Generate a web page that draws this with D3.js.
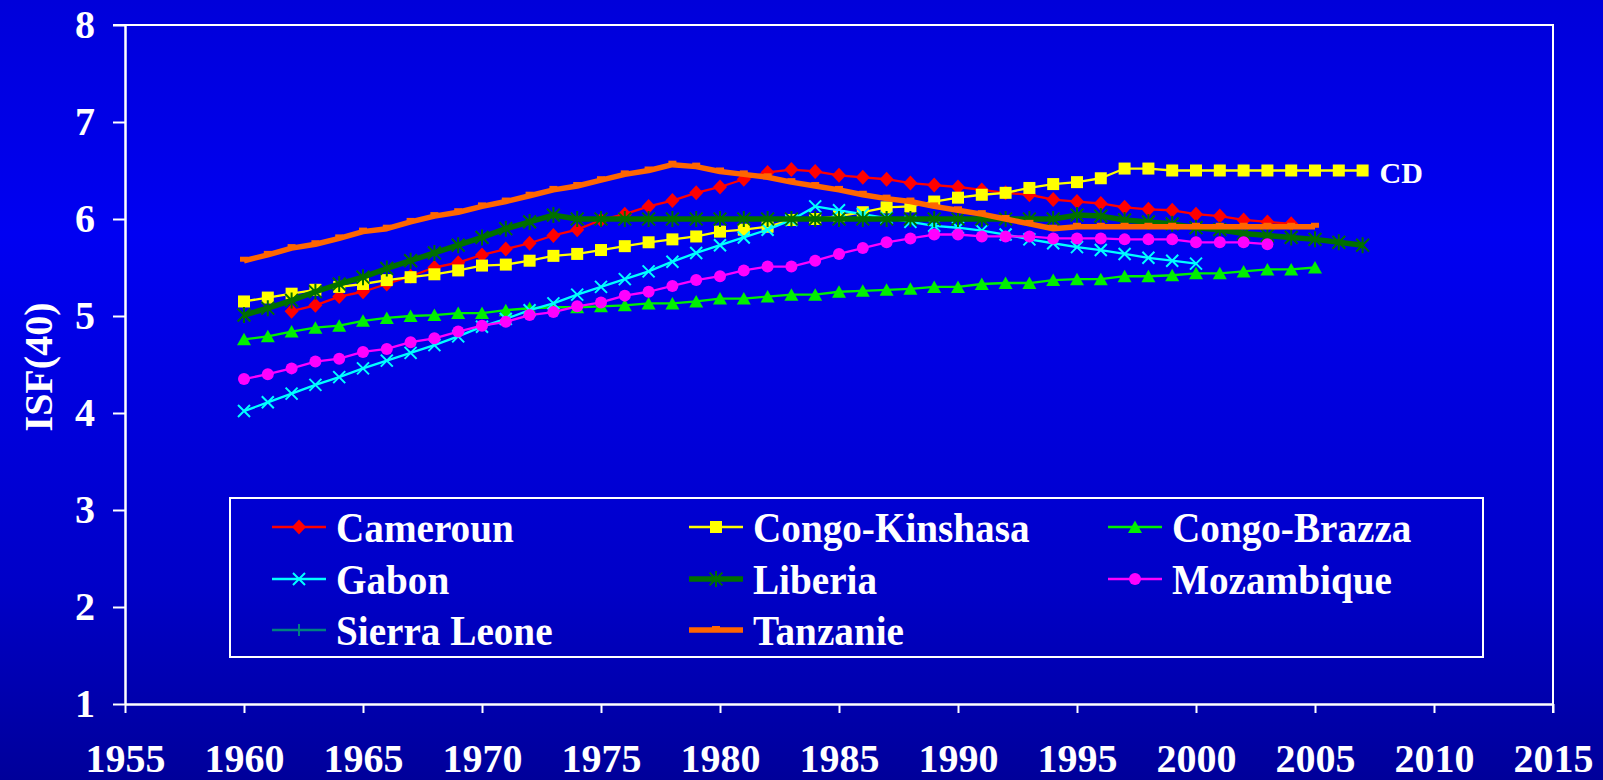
<!DOCTYPE html>
<html>
<head>
<meta charset="utf-8">
<script src="https://cdn.jsdelivr.net/npm/d3@7"></script>
<style>
html,body{margin:0;padding:0;background:#0000C0;}
svg{display:block;}
text{font-family:"Liberation Serif","Times New Roman",serif;font-weight:bold;fill:#fff;}
</style>
</head>
<body>
<svg id="chart" width="1603" height="780"></svg>
<script>
// ---------- data ----------
const xTicks = [1955,1960,1965,1970,1975,1980,1985,1990,1995,2000,2005,2010,2015];
const yTicks = [1,2,3,4,5,6,7,8];
const yLabel = "ISF(40)";

const camerounStart = 1962;
const cameroun = [5.05,5.11,5.20,5.25,5.33,5.41,5.50,5.55,5.63,5.69,5.75,5.83,5.89,5.99,6.05,6.13,6.19,6.27,6.33,6.41,6.48,6.51,6.49,6.45,6.43,6.41,6.37,6.35,6.33,6.30,6.27,6.25,6.20,6.18,6.16,6.12,6.10,6.09,6.05,6.03,5.99,5.97,5.95];

const kinshasaStart = 1960;
const kinshasa = [5.15,5.19,5.23,5.27,5.30,5.33,5.37,5.40,5.43,5.47,
                  5.52,5.53,5.57,5.62,5.64,5.68,5.72,5.76,5.79,5.82,
                  5.87,5.89,5.92,5.99,6.00,6.03,6.07,6.12,6.13,6.18,
                  6.22,6.25,6.27,6.32,6.36,6.38,6.42,6.52,6.52,6.50,
                  6.50,6.50,6.50,6.50,6.50,6.50,6.50,6.50];

const brazzaStart = 1960;
const brazza = [4.76,4.79,4.84,4.88,4.90,4.95,4.98,5.00,5.01,5.03,
                5.03,5.06,5.08,5.09,5.09,5.10,5.11,5.13,5.13,5.15,
                5.18,5.18,5.20,5.22,5.22,5.25,5.26,5.27,5.28,5.30,
                5.30,5.33,5.34,5.34,5.37,5.38,5.38,5.41,5.41,5.42,
                5.44,5.44,5.46,5.48,5.48,5.50];

const gabonStart = 1960;
const gabon = [4.02,4.11,4.20,4.29,4.37,4.46,4.54,4.62,4.70,4.79,
               4.89,4.97,5.06,5.13,5.22,5.30,5.38,5.46,5.56,5.65,
               5.73,5.81,5.89,5.99,6.13,6.09,6.05,6.01,5.97,5.93,
               5.91,5.88,5.84,5.79,5.75,5.71,5.68,5.64,5.60,5.57,5.54];

const liberiaStart = 1960;
const liberia = [5.01,5.08,5.16,5.25,5.33,5.40,5.49,5.57,5.65,5.73,
                 5.81,5.90,5.97,6.04,6.00,6.00,6.00,6.00,6.00,6.00,
                 6.00,6.00,6.00,6.00,6.00,6.00,6.00,6.00,6.00,6.00,
                 6.00,6.00,6.00,6.00,6.00,6.04,6.03,5.99,5.97,5.95,
                 5.91,5.89,5.85,5.83,5.81,5.79,5.76,5.73];

const mozambiqueStart = 1960;
const mozambique = [4.35,4.40,4.46,4.53,4.56,4.63,4.66,4.73,4.77,4.84,
                    4.90,4.94,5.01,5.04,5.10,5.14,5.21,5.25,5.31,5.37,
                    5.41,5.47,5.51,5.51,5.57,5.64,5.70,5.76,5.80,5.84,
                    5.84,5.82,5.82,5.82,5.80,5.80,5.80,5.79,5.79,5.79,
                    5.76,5.76,5.76,5.74];

const sierraLeoneStart = 1960;
const sierraLeone = [];

const tanzanieStart = 1960;
const tanzanie = [5.57,5.63,5.70,5.74,5.80,5.87,5.90,5.97,6.03,6.07,
                  6.13,6.18,6.24,6.30,6.34,6.40,6.46,6.50,6.56,6.54,
                  6.49,6.46,6.43,6.38,6.34,6.30,6.25,6.21,6.18,6.13,
                  6.09,6.05,6.00,5.95,5.90,5.92,5.92,5.92,5.92,5.92,
                  5.92,5.92,5.92,5.92,5.92,5.92];

const seriesNames = ["Cameroun","Congo-Kinshasa","Congo-Brazza","Gabon","Liberia","Mozambique","Sierra Leone","Tanzanie"];
const endLabel = "CD";

// ---------- styles ----------
const styles = {
  "Cameroun":      {color:"#FF0000", width:2.3, marker:"diamond"},
  "Congo-Kinshasa":{color:"#FFFF00", width:2.3, marker:"square"},
  "Congo-Brazza":  {color:"#00F000", width:2.3, marker:"triangle"},
  "Gabon":         {color:"#00FFFF", width:2.3, marker:"x"},
  "Liberia":       {color:"#006F00", width:5.5, marker:"star"},
  "Mozambique":    {color:"#FF00FF", width:2.3, marker:"circle"},
  "Sierra Leone":  {color:"#008080", width:2.3, marker:"plus"},
  "Tanzanie":      {color:"#FF6600", width:5.5, marker:"dash"}
};

function mk(start, vals){ return vals.map((v,i)=>({year:start+i, value:v})); }
const series = [
  {name:"Cameroun", data:mk(camerounStart,cameroun)},
  {name:"Congo-Kinshasa", data:mk(kinshasaStart,kinshasa)},
  {name:"Congo-Brazza", data:mk(brazzaStart,brazza)},
  {name:"Gabon", data:mk(gabonStart,gabon)},
  {name:"Liberia", data:mk(liberiaStart,liberia)},
  {name:"Mozambique", data:mk(mozambiqueStart,mozambique)},
  {name:"Sierra Leone", data:mk(sierraLeoneStart,sierraLeone)},
  {name:"Tanzanie", data:mk(tanzanieStart,tanzanie)}
];

// ---------- layout ----------
const W = 1603, H = 780;
const L = 125, R = 1553, T = 25, B = 704;
const svg = d3.select("#chart");

const defs = svg.append("defs");
const grad = defs.append("linearGradient").attr("id","bg").attr("x1",0).attr("y1",0).attr("x2",0).attr("y2",1);
[[0,"#0000DA"],[0.3,"#0000F2"],[0.75,"#0000C8"],[1,"#00009A"]].forEach(s=>
  grad.append("stop").attr("offset",s[0]).attr("stop-color",s[1]));
svg.append("rect").attr("width",W).attr("height",H).attr("fill","url(#bg)");

const x = d3.scaleLinear().domain([1955,2015]).range([L,R]);
const y = d3.scaleLinear().domain([1,8]).range([B,T]);

// frame (top and right)
svg.append("path")
  .attr("d",`M${L-12},${T}H${R}V${B+9}`)
  .attr("fill","none").attr("stroke","#fff").attr("stroke-width",2);

// axes
const yAxis = svg.append("g").attr("transform",`translate(${L},0)`)
  .call(d3.axisLeft(y).tickValues(yTicks).tickFormat(d3.format("d")).tickSize(12).tickSizeOuter(0).tickPadding(18));
const xAxis = svg.append("g").attr("transform",`translate(0,${B})`)
  .call(d3.axisBottom(x).tickValues(xTicks).tickFormat(d3.format("d")).tickSize(9).tickSizeOuter(0).tickPadding(31));
[yAxis,xAxis].forEach(g=>{
  g.selectAll("path.domain").attr("stroke","#fff").attr("stroke-width",2.5);
  g.selectAll(".tick line").attr("stroke","#fff").attr("stroke-width",2);
  g.selectAll("text").style("font-family",'"Liberation Serif","Times New Roman",serif')
    .style("font-weight","bold").style("font-size","40px").attr("fill","#fff");
});

svg.append("text")
  .attr("transform",`translate(52,367) rotate(-90)`)
  .attr("text-anchor","middle")
  .style("font-size","40px")
  .text(yLabel);

// markers
function drawMarker(g, type, color, cx, cy, scale){
  const s = scale||1;
  if(type==="diamond"){
    g.append("path").attr("d",`M${cx},${cy-7.5*s}L${cx+7*s},${cy}L${cx},${cy+7.5*s}L${cx-7*s},${cy}Z`).attr("fill",color);
  } else if(type==="square"){
    g.append("rect").attr("x",cx-6*s).attr("y",cy-6*s).attr("width",12*s).attr("height",12*s).attr("fill",color);
  } else if(type==="triangle"){
    g.append("path").attr("d",`M${cx},${cy-6.5*s}L${cx+7*s},${cy+6*s}L${cx-7*s},${cy+6*s}Z`).attr("fill",color);
  } else if(type==="circle"){
    g.append("circle").attr("cx",cx).attr("cy",cy).attr("r",6*s).attr("fill",color);
  } else if(type==="x"){
    const r=6*s;
    g.append("path").attr("d",`M${cx-r},${cy-r}L${cx+r},${cy+r}M${cx-r},${cy+r}L${cx+r},${cy-r}`)
      .attr("stroke",color).attr("stroke-width",2).attr("fill","none");
  } else if(type==="star"){
    const r=8*s;
    g.append("path").attr("d",`M${cx-r*0.8},${cy-r*0.8}L${cx+r*0.8},${cy+r*0.8}M${cx-r*0.8},${cy+r*0.8}L${cx+r*0.8},${cy-r*0.8}M${cx},${cy-r}L${cx},${cy+r}`)
      .attr("stroke",color).attr("stroke-width",2).attr("fill","none");
  } else if(type==="plus"){
    const r=6*s;
    g.append("path").attr("d",`M${cx},${cy-r}L${cx},${cy+r}M${cx-r},${cy}L${cx+r},${cy}`)
      .attr("stroke",color).attr("stroke-width",2).attr("fill","none");
  } else if(type==="dash"){
    g.append("rect").attr("x",cx-4*s).attr("y",cy-4).attr("width",8*s).attr("height",5).attr("fill",color);
  }
}

const line = d3.line().x(d=>x(d.year)).y(d=>y(d.value));
const plot = svg.append("g");
series.forEach(s=>{
  const st = styles[s.name];
  if(!s.data.length) return;
  const g = plot.append("g");
  g.append("path").datum(s.data).attr("d",line)
    .attr("fill","none").attr("stroke",st.color).attr("stroke-width",st.width)
    .attr("stroke-linejoin","round");
  s.data.forEach(d=>drawMarker(g, st.marker, st.color, x(d.year), y(d.value)));
});

// end label for Congo-Kinshasa
const kin = series[1].data[series[1].data.length-1];
svg.append("text").attr("x",x(kin.year)+17).attr("y",y(kin.value)+12)
  .style("font-size","30px").text(endLabel);

// legend
const legend = svg.append("g");
legend.append("rect").attr("x",230).attr("y",498).attr("width",1253).attr("height",159)
  .attr("fill","none").attr("stroke","#fff").attr("stroke-width",2);
const colX = [272, 689, 1108];
const rowY = [527, 579, 630];
seriesNames.forEach((n,i)=>{
  const st = styles[n];
  const cx = colX[i%3], cy = rowY[Math.floor(i/3)];
  const g = legend.append("g");
  g.append("line").attr("x1",cx).attr("x2",cx+54).attr("y1",cy).attr("y2",cy)
    .attr("stroke",st.color).attr("stroke-width",st.width);
  drawMarker(g, st.marker, st.color, cx+27, cy, 1);
  g.append("text").attr("x",cx+64).attr("y",cy).attr("dy","0.35em")
    .attr("transform",`translate(${cx+64},${cy}) scale(0.98,1.05) translate(${-(cx+64)},${-cy})`)
    .style("font-size","40px").text(n);
});
</script>
</body>
</html>
